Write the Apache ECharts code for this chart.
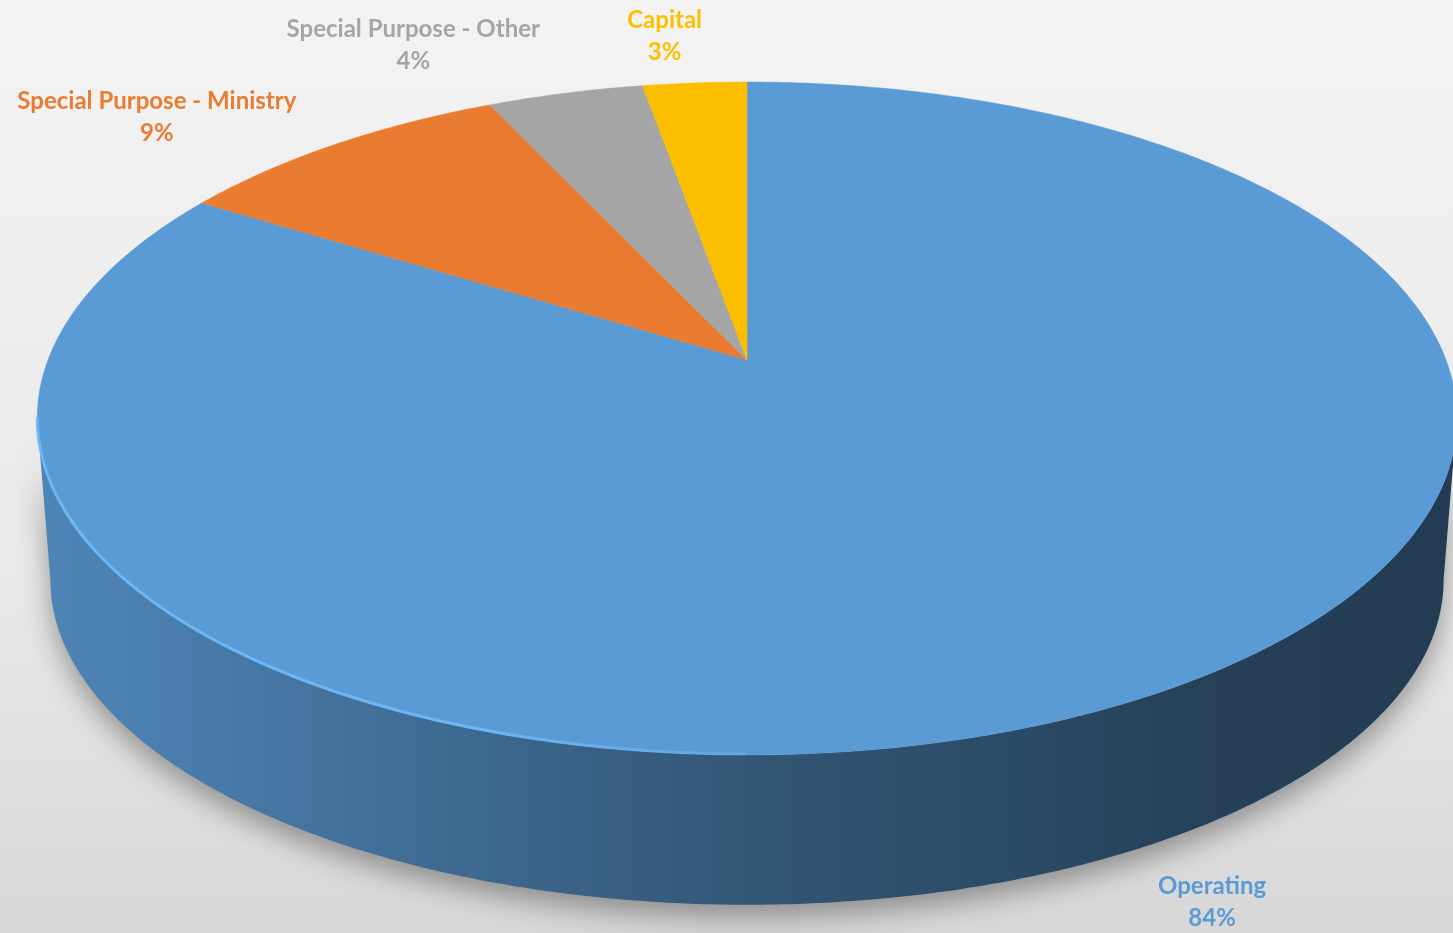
<!DOCTYPE html>
<html><head><meta charset="utf-8">
<script src="https://cdn.jsdelivr.net/npm/echarts@6/dist/echarts.min.js"></script>
<style>html,body{margin:0;padding:0;width:100%;height:100%;overflow:hidden;background:#eee}#c{width:1453px;height:933px}</style>
</head><body><div id="c"></div>
<script>
// ---- data ----
const categories = ['Operating', 'Special Purpose - Ministry', 'Special Purpose - Other', 'Capital'];
const values = [83.8, 9.2, 4.2, 2.8];
const colors = ['#5B9BD5', '#E97C30', '#A5A5A5', '#FCBF00'];

// ---- layout (perspective projection of a tilted disk) ----
const CX = 747, P = 0.1738;
const TOP = { a: 699, b: 326.3, cy: 360 };
const BOT = { a: 686, b: 315, cy: 523.5 };
const labelOffsets = [[71, 54], [-178, -27], [-152, -48], [-30, -47]];
const SIL = Math.acos(-P);

function shade(hex, f) {
  const n = parseInt(hex.slice(1), 16);
  const r = Math.round(((n >> 16) & 255) * f), g = Math.round(((n >> 8) & 255) * f), b = Math.round((n & 255) * f);
  return 'rgb(' + r + ',' + g + ',' + b + ')';
}
function proj(theta, bottom) {
  const k = bottom ? BOT : TOP;
  const s = Math.sin(theta), v = -Math.cos(theta), d = 1 - P * v;
  return [CX + k.a * s / d, k.cy + k.b * v / d];
}
function arc(a0, a1, bottom) {
  const pts = [];
  const n = Math.max(2, Math.ceil(Math.abs(a1 - a0) / (Math.PI / 360)));
  for (let k = 0; k <= n; k++) pts.push(proj(a0 + (a1 - a0) * k / n, bottom));
  return pts;
}
const total = values.reduce((a, b) => a + b, 0);
const cum = []; values.reduce((a, b, i) => (cum[i] = a, a + b), 0);

const chart = echarts.init(document.getElementById('c'), null, { renderer: 'canvas' });
chart.setOption({
  animation: false,
  backgroundColor: {
    type: 'linear', x: 0, y: 0, x2: 0, y2: 1,
    colorStops: [{ offset: 0, color: '#f3f3f3' }, { offset: 0.6, color: '#e9e9e9' }, { offset: 1, color: '#d7d7d7' }]
  },
  series: [{
    type: 'custom',
    coordinateSystem: 'none',
    data: values.map((v, i) => ({ value: v, name: categories[i] })),
    renderItem: function (params, api) {
      const i = params.dataIndex;
      const v = api.value(0);
      const a0 = cum[i] / total * Math.PI * 2;
      const a1 = (cum[i] + v) / total * Math.PI * 2;
      const col = colors[i];
      const children = [];
      // side wall
      const lo = Math.max(a0, SIL), hi = Math.min(a1, Math.PI * 2 - SIL);
      if (hi > lo) {
        const top = arc(lo, hi, false), bot = arc(hi, lo, true);
        children.push({
          type: 'polygon', z2: 1,
          shape: { points: top.concat(bot) },
          style: {
            fill: {
              type: 'linear', global: true, x: 40, y: 0, x2: 1440, y2: 0,
              colorStops: [
                { offset: 0, color: shade(col, 0.86) },
                { offset: 0.05, color: shade(col, 0.83) },
                { offset: 0.5, color: shade(col, 0.56) },
                { offset: 0.85, color: shade(col, 0.41) },
                { offset: 1, color: shade(col, 0.39) }
              ]
            },
            shadowBlur: 28, shadowColor: 'rgba(0,0,0,0.35)', shadowOffsetY: 12
          }
        });
        children.push({
          type: 'polyline', z2: 12,
          shape: { points: arc(Math.max(lo, Math.PI * 1.0), hi, false).map(p => [p[0], p[1] - 1]) },
          style: {
            fill: null, lineWidth: 3,
            stroke: {
              type: 'linear', global: true, x: 40, y: 0, x2: 900, y2: 0,
              colorStops: [
                { offset: 0, color: 'rgba(110,185,250,0.9)' },
                { offset: 0.5, color: 'rgba(110,185,250,0.9)' },
                { offset: 1, color: 'rgba(110,185,250,0)' }
              ]
            }
          }
        });
      }
      // top face
      children.push({
        type: 'polygon', z2: 10,
        shape: { points: [[CX, TOP.cy]].concat(arc(a0, a1, false)) },
        style: { fill: col, stroke: col, lineWidth: 0.5 }
      });
      // label
      const mid = (a0 + a1) / 2;
      const anc = proj(mid, Math.cos(mid) < 0);
      const off = labelOffsets[i];
      children.push({
        type: 'text', z2: 20,
        x: anc[0] + off[0], y: anc[1] + off[1],
        style: {
          text: categories[i] + '\n' + Math.round(v / total * 100) + '%',
          fill: col,
          font: 'bold 24px Lato',
          align: 'center', verticalAlign: 'middle', lineHeight: 32
        }
      });
      return { type: 'group', children: children };
    }
  }]
});
</script>
</body></html>
